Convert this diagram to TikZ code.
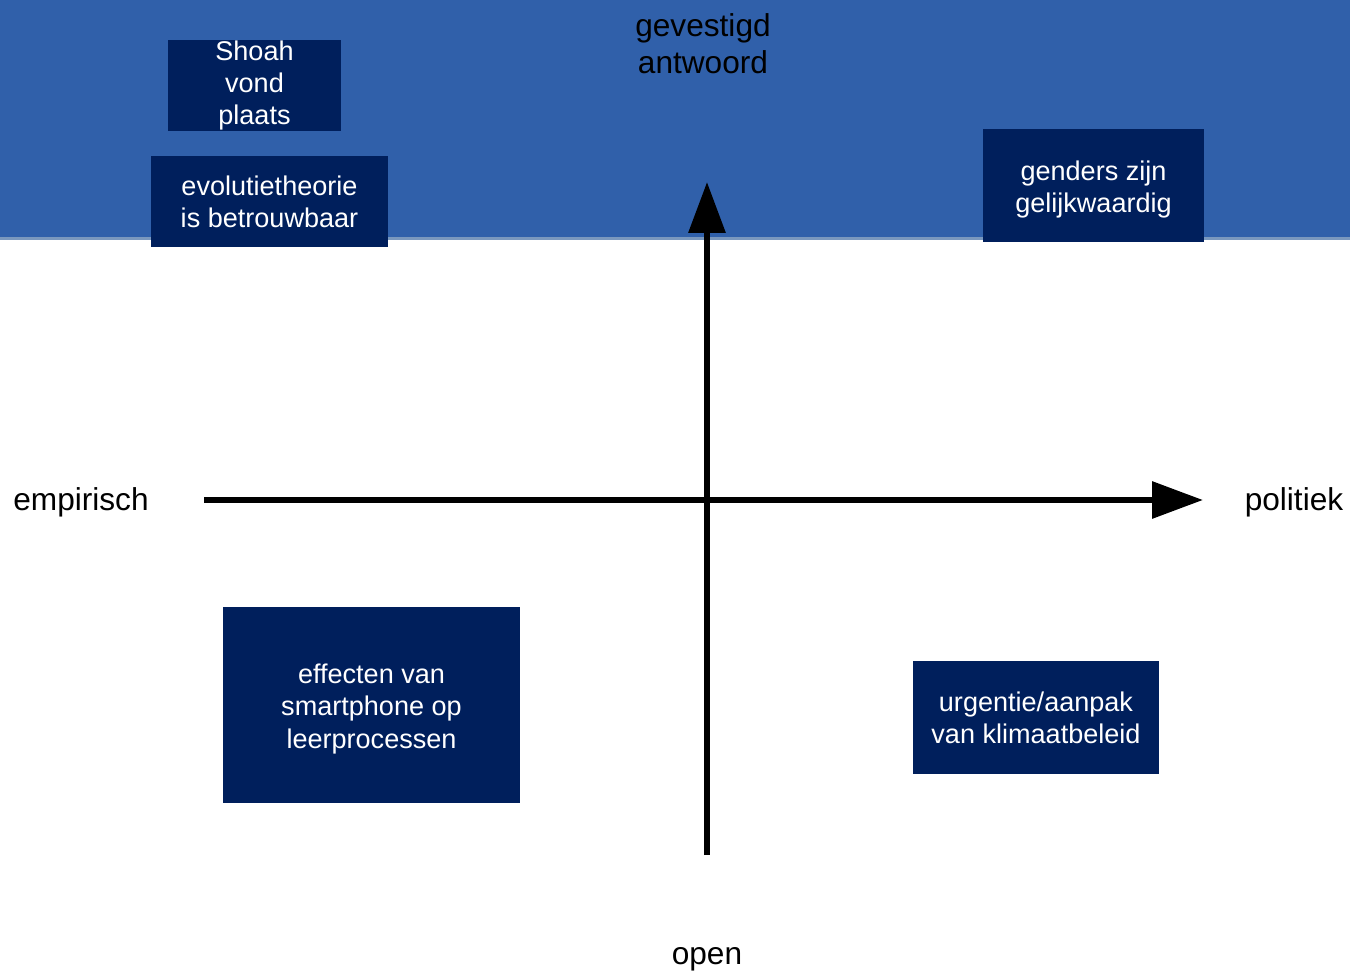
\documentclass[tikz,border=0pt]{standalone}
\usepackage{fontspec}
\setmainfont{Liberation Sans}
\usetikzlibrary{arrows.meta}
\definecolor{bandblue}{HTML}{3060AA}
\definecolor{bandedge}{HTML}{7A98BE}
\definecolor{boxblue}{HTML}{001F5C}
\begin{document}
\begin{tikzpicture}[line join=round,
	kader/.style={fill=boxblue,text=white,inner sep=0pt,align=center,font=\fontsize{7.7}{9.2}\selectfont},
	as/.style={font=\fontsize{9}{10.6}\selectfont,align=center,inner sep=0pt},
	pijl/.style={line width=1.8pt,-{Triangle[length=5.1mm,width=3.6mm]}}]
	\useasboundingbox (0,0) rectangle (13.5,9.72);
	\fill[bandblue] (0,7.34) rectangle (13.5,9.72);
	\draw[bandedge,line width=0.6pt] (0,7.335)--(13.5,7.335);
	% assen
	\coordinate (links) at (2.04,4.72);
	\coordinate (rechts) at (12.03,4.72);
	\coordinate (onder) at (7.07,1.17);
	\coordinate (boven) at (7.07,7.9);
	\draw[pijl] (links)--(rechts);
	\draw[pijl] (onder)--(boven);
	\node[as] (emp) at (0.81,4.70) {empirisch};
	\node[as] (pol) at (12.94,4.70) {politiek};
	\node[as] (open) at (7.07,0.13) {open};
	\node[as] (gev) at (7.03,9.28) {gevestigd\\antwoord};
	% voorbeelden
	\node[kader,minimum width=1.73cm,minimum height=0.91cm] (shoah) at (2.545,8.865) {Shoah\\vond\\plaats};
	\node[kader,minimum width=2.37cm,minimum height=0.91cm] (evo) at (2.695,7.705) {evolutietheorie\\is betrouwbaar};
	\node[kader,minimum width=2.21cm,minimum height=1.13cm] (gen) at (10.935,7.865) {\rule{0pt}{0.27cm}genders zijn\\gelijkwaardig};
	\node[kader,minimum width=2.97cm,minimum height=1.96cm] (smart) at (3.715,2.67) {\rule{0pt}{0.27cm}effecten van\\smartphone op\\leerprocessen};
	\node[kader,minimum width=2.46cm,minimum height=1.13cm] (klim) at (10.36,2.545) {urgentie/aanpak\\van klimaatbeleid};
\end{tikzpicture}
\end{document}
